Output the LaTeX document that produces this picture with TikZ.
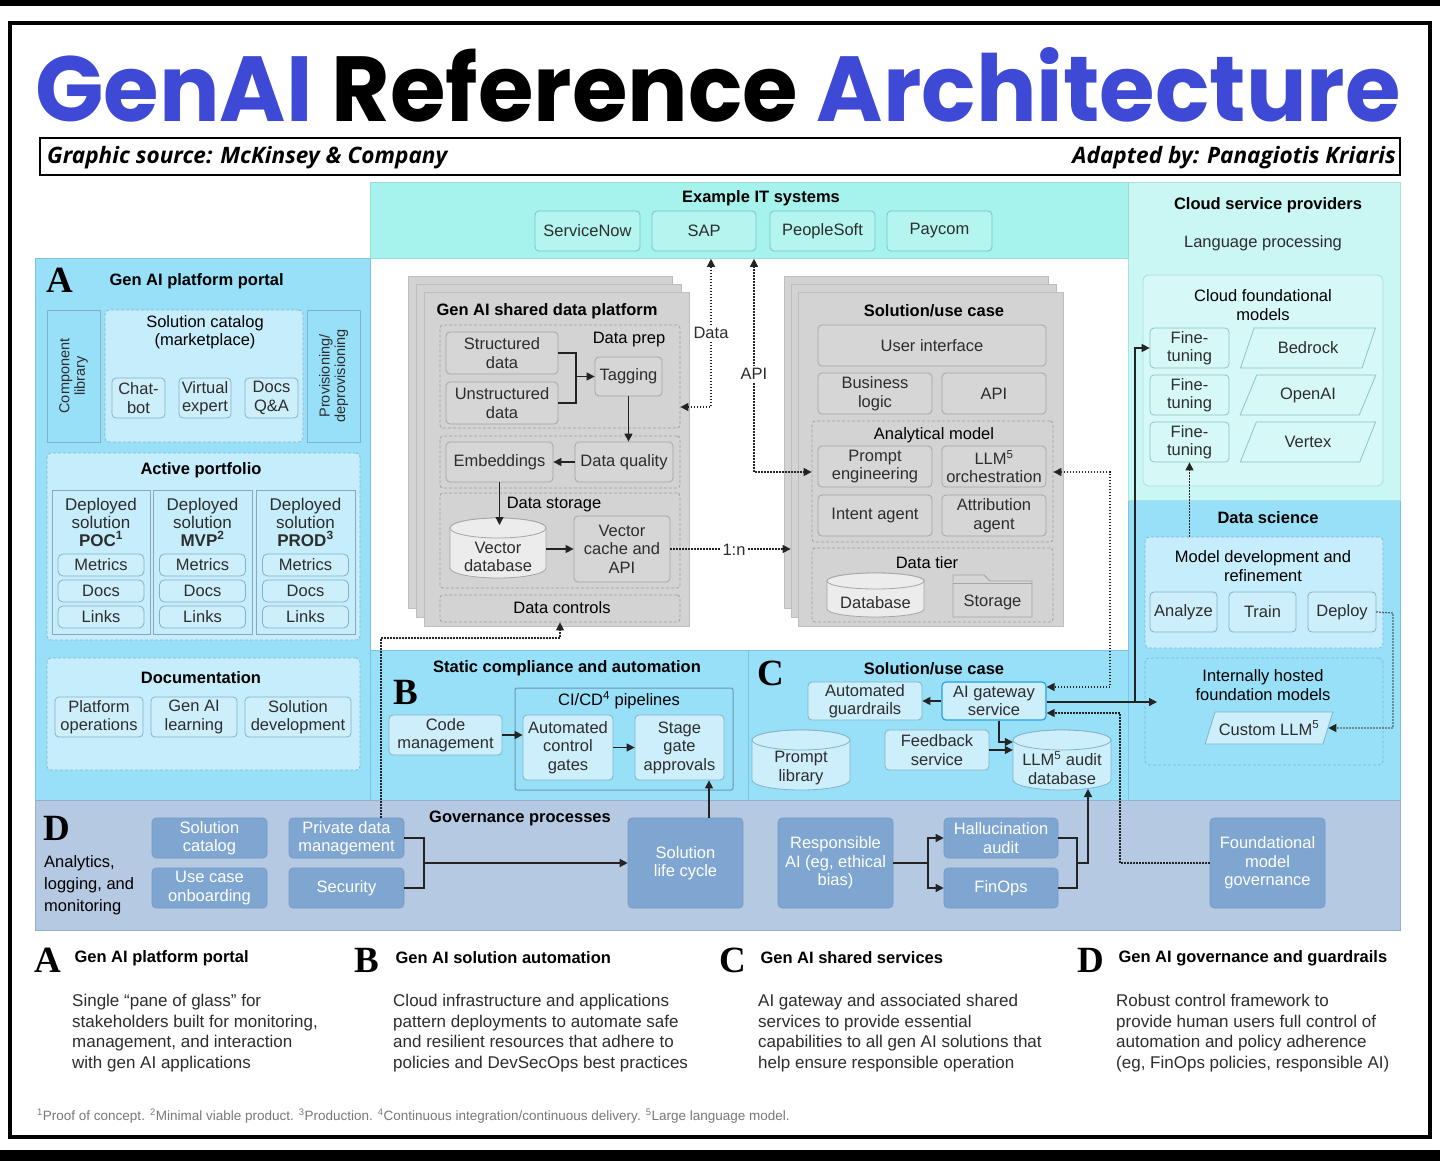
\documentclass[tikz,border=0pt]{standalone}
\usepackage{fontspec}
\setmainfont{Liberation Sans}
\newfontfamily\titlefont{Poppins}
\newfontfamily\subfont{Open Sans}
\newfontfamily\letterfont{Liberation Serif}
\usetikzlibrary{arrows.meta,shapes.geometric,calc}
\definecolor{tblue}{RGB}{62,74,214}
\definecolor{txt}{RGB}{45,45,45}
\definecolor{itteal}{RGB}{166,242,236}
\definecolor{itline}{RGB}{150,220,215}
\definecolor{tfill}{RGB}{180,245,240}
\definecolor{tline}{RGB}{120,195,195}
\definecolor{cloudbg}{RGB}{202,246,243}
\definecolor{cloudline}{RGB}{170,225,225}
\definecolor{cfmfill}{RGB}{214,249,247}
\definecolor{cfmline}{RGB}{170,222,222}
\definecolor{cbline}{RGB}{140,195,195}
\definecolor{pblue}{RGB}{152,223,248}
\definecolor{pline}{RGB}{125,195,225}
\definecolor{alight}{RGB}{198,237,251}
\definecolor{afill}{RGB}{205,239,252}
\definecolor{aline}{RGB}{130,178,198}
\definecolor{adash}{RGB}{130,185,210}
\definecolor{colline}{RGB}{140,168,182}
\definecolor{sheet}{RGB}{211,211,211}
\definecolor{sheetline}{RGB}{190,190,190}
\definecolor{gfill}{RGB}{214,214,214}
\definecolor{gline}{RGB}{165,165,165}
\definecolor{gdash}{RGB}{160,160,160}
\definecolor{gcyl}{RGB}{236,236,236}
\definecolor{dpanel}{RGB}{181,201,226}
\definecolor{dpline}{RGB}{150,175,205}
\definecolor{dfill}{RGB}{127,166,208}
\definecolor{dline}{RGB}{115,152,195}
\definecolor{lineC}{RGB}{35,35,35}
\definecolor{gwline}{RGB}{40,160,225}
\definecolor{cicdline}{RGB}{110,150,175}
\definecolor{foot}{RGB}{120,120,120}
\newcommand\bodysz{\fontsize{16.5}{18.5}\selectfont}
\newcommand\headsz{\bfseries\fontsize{16.5}{19}\selectfont}
\newcommand\cylpath[6]{%
  \pgfmathsetmacro\cyX{(#2+#4)/2}\pgfmathsetmacro\cyR{(#4-#2)/2}%
  \path[#1] (#2,#3+#6) -- (#2,#5-#6) arc[start angle=180,end angle=0,x radius=\cyR,y radius=#6] -- (#4,#3+#6) arc[start angle=0,end angle=-180,x radius=\cyR,y radius=#6] -- cycle;
  \path[#1] (\cyX,#3+#6) ellipse[x radius=\cyR, y radius=#6];
}
\tikzset{
  bodyf/.style={font=\bodysz, text=txt},
  headf/.style={font=\headsz, text=black},
  subhead/.style={font=\bodysz, text=black, align=center},
  box/.style={rounded corners=4pt, align=center, inner sep=1pt, text=txt, font=\bodysz},
  gbox/.style={box, draw=gline, fill=gfill, line width=0.8pt},
  abox/.style={box, draw=aline, fill=afill, line width=0.8pt},
  tbox/.style={box, draw=tline, fill=tfill, line width=0.8pt},
  cbox/.style={box, draw=cbline, fill=cfmfill, line width=0.8pt},
  dbx/.style={box, draw=dline, fill=dfill, text=white, line width=0.6pt},
  para/.style={trapezium, trapezium left angle=61, trapezium right angle=119, trapezium stretches=true, align=center, inner sep=1pt, text=txt, font=\bodysz, line width=0.8pt},
  dashg/.style={draw=gdash, dash pattern=on 3pt off 2pt, rounded corners=3pt, line width=0.8pt, inner sep=0pt},
  dasha/.style={draw=adash, dash pattern=on 3pt off 2pt, rounded corners=4pt, line width=0.8pt, inner sep=0pt},
  sheetbox/.style={fill=sheet, draw=sheetline, line width=0.8pt, inner sep=0pt},
  colbox/.style={draw=colline, line width=0.8pt, inner sep=0pt},
  conn/.style={draw=lineC, line width=1.3pt},
  arr/.style={conn, -{Triangle[length=8pt,width=8pt]}},
  dotl/.style={draw=lineC, line width=1.3pt, dash pattern=on 1.3pt off 1.7pt},
  dotarr/.style={dotl, -{Triangle[length=8pt,width=8pt]}},
  dotboth/.style={dotl, {Triangle[length=8pt,width=8pt]}-{Triangle[length=8pt,width=8pt]}},
  letter/.style={font=\letterfont\bfseries\fontsize{37}{37}\selectfont, inner sep=0pt},
  lbl/.style={fill=white, inner sep=2pt, font=\bodysz, text=txt},
  cyla/.style={fill=afill, draw=aline, line width=0.8pt},
  cylg/.style={fill=gcyl, draw=gline, line width=0.8pt},
  desc/.style={anchor=north west, align=left, inner sep=0pt, font=\fontsize{17}{20.7}\selectfont, text=txt},
  subt/.style={inner sep=0pt, font=\subfont\bfseries\itshape\fontsize{22.6}{24}\selectfont}
}
\begin{document}
\begin{tikzpicture}[x=1pt,y=-1pt]
\useasboundingbox (0,0) rectangle (1440,1161);
\fill[white] (0,0) rectangle (1440,1161);
\fill[black] (0,0) rectangle (1440,6);
\fill[black] (0,1150) rectangle (1440,1161);
\draw[line width=4pt] (10,23) rectangle (1430,1137);

% ---------- title
\node[anchor=base west, inner sep=0pt] (title) at (35,122) {\resizebox{1365pt}{74pt}{\titlefont\bfseries{\color{tblue}GenAI} Reference {\color{tblue}Architecture}}};
\draw[line width=1.3pt] (40,138) rectangle (1400,175);
\node[subt, anchor=base west] (src) at (47,164) {Graphic source: McKinsey \& Company};
\node[subt, anchor=base east] (adp) at (1396,164) {Adapted by: Panagiotis Kriaris};

% ---------- panels
\path[fill=pblue, draw=pline, line width=0.8pt] (35,258) rectangle (370,800);
\path[fill=pblue, draw=pline, line width=0.8pt] (370,650) rectangle (748,800);
\path[fill=pblue, draw=pline, line width=0.8pt] (748,650) rectangle (1128,800);
\path[fill=pblue, draw=pline, line width=0.8pt] (1128,500) rectangle (1400,800);
\path[fill=cloudbg, draw=cloudline, line width=0.8pt] (1128,182) rectangle (1400,500);
\node[fill=itteal, draw=itline, line width=0.8pt, anchor=north west, minimum width=758, minimum height=76, inner sep=0pt] (itb) at (370,182) {};
\path[fill=dpanel, draw=dpline, line width=0.8pt] (35,800) rectangle (1400,930);

% ---------- IT systems
\node[headf] (itt) at (761,198) {Example IT systems};
\node[tbox, minimum width=105, minimum height=40] (sn) at (587.5,231) {ServiceNow};
\node[tbox, minimum width=104, minimum height=40] (sap) at (704,231) {SAP};
\node[tbox, minimum width=105, minimum height=40] (ps) at (822.5,231) {PeopleSoft};
\node[tbox, minimum width=105, minimum height=40] (pay) at (939.5,231) {Paycom};

% ---------- Cloud service providers
\node[headf] (cspt) at (1268,205) {Cloud service providers};
\node[bodyf] (lang) at (1263,243) {Language processing};
\node[draw=cfmline, fill=cfmfill, rounded corners=6pt, line width=0.8pt, minimum width=240, minimum height=211, inner sep=0pt] (cfm) at (1263,380.5) {};
\node[subhead] (cfmt) at (1263,305) {Cloud foundational\\models};
\node[cbox, minimum width=79, minimum height=40] (ft1) at (1189.5,348) {Fine-\\tuning};
\node[cbox, minimum width=79, minimum height=40] (ft2) at (1189.5,395) {Fine-\\tuning};
\node[cbox, minimum width=79, minimum height=40] (ft3) at (1189.5,442) {Fine-\\tuning};
\node[para, draw=cbline, fill=cfmfill, minimum width=136, minimum height=40] (bed) at (1308,348) {Bedrock};
\node[para, draw=cbline, fill=cfmfill, minimum width=136, minimum height=40] (oai) at (1308,395) {OpenAI};
\node[para, draw=cbline, fill=cfmfill, minimum width=136, minimum height=40] (vtx) at (1308,442) {Vertex};

% ---------- Data science
\node[headf] (dst) at (1268,518) {Data science};
\node[dasha, fill=alight, minimum width=238, minimum height=111] (mdr) at (1264,592.5) {};
\node[subhead] (mdrt) at (1263,566) {Model development and\\refinement};
\node[abox, minimum width=67, minimum height=40] (ana) at (1183.5,612) {Analyze};
\node[abox, minimum width=67, minimum height=40] (trn) at (1262.5,612) {Train};
\node[abox, minimum width=68, minimum height=40] (dep) at (1342,612) {Deploy};
\node[dasha, minimum width=238, minimum height=107] (ihf) at (1264,711.5) {};
\node[subhead] (ihft) at (1263,685) {Internally hosted\\foundation models};
\node[para, draw=aline, fill=afill, trapezium left angle=60, trapezium right angle=120, minimum width=128, minimum height=32] (cllm) at (1269,728) {Custom LLM\textsuperscript{5}};

% ---------- Panel A
\node[letter] (la) at (60,280) {A};
\node[headf, anchor=west] (at) at (106,281) {Gen AI platform portal};
\node[draw=aline, fill=pblue, line width=0.8pt, minimum width=53, minimum height=132, inner sep=0pt] (cl) at (73.5,376) {};
\node[rotate=90, align=center, font=\fontsize{14.5}{15.5}\selectfont, text=txt] (clt) at (cl.center) {Component\\library};
\node[dasha, fill=alight, minimum width=198, minimum height=132] (sc) at (204,376) {};
\node[subhead] (sct) at (205,332) {Solution catalog\\(marketplace)};
\node[abox, minimum width=53, minimum height=40] (chat) at (138.5,398) {Chat-\\bot};
\node[abox, minimum width=52, minimum height=40] (virt) at (205,398) {Virtual\\expert};
\node[abox, minimum width=53, minimum height=40] (dqa) at (271.5,398) {Docs\\Q\&A};
\node[draw=aline, fill=pblue, line width=0.8pt, minimum width=53, minimum height=132, inner sep=0pt] (prov) at (333.5,376) {};
\node[rotate=90, align=center, font=\fontsize{14.5}{15.5}\selectfont, text=txt] (provt) at (prov.center) {Provisioning/\\deprovisioning};

\node[dasha, fill=alight, minimum width=313, minimum height=187] (ap) at (203.5,546.5) {};
\node[headf] (apt) at (201,470) {Active portfolio};
\node[colbox, minimum width=98, minimum height=144] (c1) at (101,562) {};
\node[colbox, minimum width=99, minimum height=144] (c2) at (202.5,562) {};
\node[colbox, minimum width=99, minimum height=144] (c3) at (305.5,562) {};
\node[align=center, font=\fontsize{17}{18}\selectfont, text=txt] (c1t) at (101,522) {Deployed\\solution\\\textbf{POC\textsuperscript{1}}};
\node[align=center, font=\fontsize{17}{18}\selectfont, text=txt] (c2t) at (202.5,522) {Deployed\\solution\\\textbf{MVP\textsuperscript{2}}};
\node[align=center, font=\fontsize{17}{18}\selectfont, text=txt] (c3t) at (305.5,522) {Deployed\\solution\\\textbf{PROD\textsuperscript{3}}};
\foreach \cx/\cn in {101/a,202.5/b,305.5/c}{
  \node[abox, minimum width=86, minimum height=22, rounded corners=5pt] (m\cn) at (\cx,565) {Metrics};
  \node[abox, minimum width=86, minimum height=22, rounded corners=5pt] (d\cn) at (\cx,591) {Docs};
  \node[abox, minimum width=86, minimum height=22, rounded corners=5pt] (l\cn) at (\cx,617) {Links};
}
\node[dasha, fill=alight, minimum width=313, minimum height=112] (doc) at (203.5,714) {};
\node[headf] (doct) at (201,678) {Documentation};
\node[abox, minimum width=88, minimum height=40] (po) at (99,717) {Platform\\operations};
\node[abox, minimum width=86, minimum height=40] (gal) at (194,717) {Gen AI\\learning};
\node[abox, minimum width=106, minimum height=40] (sdv) at (298,717) {Solution\\development};

% ---------- Shared data platform
\node[sheetbox, minimum width=264, minimum height=332] (sa1) at (540,442) {};
\node[sheetbox, minimum width=265, minimum height=333] (sa2) at (548.5,450.5) {};
\node[sheetbox, minimum width=265, minimum height=334] (sa3) at (556.5,459) {};
\node[headf, anchor=west] (sdpt) at (433,311) {Gen AI shared data platform};
\node[dashg, minimum width=240, minimum height=103] (dp) at (560,376.5) {};
\node[subhead] (dpt) at (629,340) {Data prep};
\node[gbox, minimum width=112, minimum height=42] (struct) at (502,353) {Structured\\data};
\node[gbox, minimum width=112, minimum height=42] (unstr) at (502,403) {Unstructured\\data};
\node[gbox, minimum width=67, minimum height=39] (tag) at (628.5,376.5) {Tagging};
\node[dashg, minimum width=240, minimum height=52] (dqr) at (560,462) {};
\node[gbox, minimum width=107, minimum height=40] (emb) at (499.5,462) {Embeddings};
\node[gbox, minimum width=98, minimum height=40] (dq) at (624,462) {Data quality};
\node[dashg, minimum width=240, minimum height=95] (ds) at (560,540.5) {};
\node[subhead] (dst2) at (554,505) {Data storage};
\cylpath{cylg}{450}{518}{546}{578}{10}
\node[minimum width=96, minimum height=50, inner sep=0pt, align=center, font=\bodysz, text=txt] (vdb) at (498,557) {Vector\\database};
\node[gbox, minimum width=96, minimum height=66] (vca) at (622,549) {Vector\\cache and\\API};
\node[dashg, minimum width=240, minimum height=27] (dc) at (560,608.5) {};
\node[subhead] (dct) at (562,608) {Data controls};

% ---------- Solution / use case (stack)
\node[sheetbox, minimum width=264, minimum height=332] (sb1) at (916,442) {};
\node[sheetbox, minimum width=265, minimum height=333] (sb2) at (923.5,450.5) {};
\node[sheetbox, minimum width=265, minimum height=334] (sb3) at (930.5,459) {};
\node[headf] (sut) at (934,311) {Solution/use case};
\node[gbox, minimum width=228, minimum height=41] (ui) at (932,345.5) {User interface};
\node[gbox, minimum width=114, minimum height=41] (bl) at (875,393.5) {Business\\logic};
\node[gbox, minimum width=104, minimum height=41] (api) at (994,393.5) {API};
\node[dashg, minimum width=241, minimum height=121] (am) at (932.5,481.5) {};
\node[subhead] (amt) at (934,435) {Analytical model};
\node[gbox, minimum width=114, minimum height=41] (pe) at (875,466.5) {Prompt\\engineering};
\node[gbox, minimum width=104, minimum height=41] (llmo) at (994,466.5) {LLM\textsuperscript{5}\\orchestration};
\node[gbox, minimum width=114, minimum height=41] (ia) at (875,515.5) {Intent agent};
\node[gbox, minimum width=104, minimum height=41] (aa) at (994,515.5) {Attribution\\agent};
\node[dashg, minimum width=241, minimum height=74] (dt) at (932.5,585) {};
\node[subhead] (dtt) at (927,563) {Data tier};
\cylpath{cylg}{827}{573}{924}{617}{8}
\node[minimum width=97, minimum height=36, inner sep=0pt, font=\bodysz, text=txt] (db) at (875.5,603) {Database};
\path[fill=gfill, draw=gline, line width=0.8pt] (953,617) -- (953,575) -- (984,575) -- (990,581) -- (1032,581) -- (1032,617) -- cycle;
\draw[gline, line width=0.8pt] (953,583) -- (1032,583);
\node[minimum width=79, minimum height=34, inner sep=0pt, font=\bodysz, text=txt] (stor) at (992.5,602) {Storage};

% ---------- Panel B
\node[letter] (lb) at (406,692) {B};
\node[headf] (bt) at (567,668) {Static compliance and automation};
\node[draw=cicdline, line width=1pt, rounded corners=2pt, minimum width=218, minimum height=102, inner sep=0pt] (cicd) at (624,739) {};
\node[subhead] (cicdt) at (619,700) {CI/CD\textsuperscript{4} pipelines};
\node[abox, minimum width=113, minimum height=40] (code) at (445.5,735) {Code\\management};
\node[abox, minimum width=90, minimum height=65] (acg) at (568,747.5) {Automated\\control\\gates};
\node[abox, minimum width=89, minimum height=65] (sga) at (679.5,747.5) {Stage\\gate\\approvals};

% ---------- Panel C
\node[letter] (lc) at (771,673) {C};
\node[headf] (ct) at (934,669) {Solution/use case};
\node[abox, minimum width=114, minimum height=38] (ag) at (865,701) {Automated\\guardrails};
\node[abox, draw=gwline, line width=1.2pt, minimum width=104, minimum height=38] (gw) at (994,701) {AI gateway\\service};
\cylpath{cyla}{752}{730}{850}{790}{10}
\node[minimum width=98, minimum height=50, inner sep=0pt, align=center, font=\bodysz, text=txt] (pl) at (801,768) {Prompt\\library};
\node[abox, minimum width=104, minimum height=40] (fb) at (937,750) {Feedback\\service};
\cylpath{cyla}{1013}{730}{1111}{790}{10}
\node[minimum width=98, minimum height=50, inner sep=0pt, align=center, font=\bodysz, text=txt] (llmdb) at (1062,768) {LLM\textsuperscript{5} audit\\database};

% ---------- Panel D
\node[letter] (ld) at (57,828) {D};
\node[anchor=north west, align=left, font=\fontsize{16.5}{22}\selectfont, text=black, inner sep=0pt] (alm) at (44,855) {Analytics,\\logging, and\\monitoring};
\node[headf] (gpt) at (520,818) {Governance processes};
\node[dbx, minimum width=115, minimum height=40] (scat) at (209.5,838) {Solution\\catalog};
\node[dbx, minimum width=115, minimum height=40] (uco) at (209.5,888) {Use case\\onboarding};
\node[dbx, minimum width=115, minimum height=40] (pdm) at (346.5,838) {Private data\\management};
\node[dbx, minimum width=115, minimum height=40] (sec) at (346.5,888) {Security};
\node[dbx, minimum width=115, minimum height=90] (slc) at (685.5,863) {Solution\\life cycle};
\node[dbx, minimum width=115, minimum height=90] (rai) at (835.5,863) {Responsible\\AI (eg, ethical\\bias)};
\node[dbx, minimum width=114, minimum height=40] (ha) at (1001,838) {Hallucination\\audit};
\node[dbx, minimum width=114, minimum height=40] (fin) at (1001,888) {FinOps};
\node[dbx, minimum width=115, minimum height=90] (fmg) at (1267.5,863) {Foundational\\model\\governance};

% ---------- helper coordinates
\coordinate (dataX) at (711,407);
\coordinate (apiX) at (754,472);
\coordinate (orchX) at (1110,472);
\coordinate (gwTop) at (1110,687);
\coordinate (dcX) at (381,638);
\coordinate (slcX) at (709,818);
\coordinate (j1) at (576,376.5);
\coordinate (gwBr) at (1135,702);
\coordinate (ihfIn) at (1157,702);
\coordinate (depX) at (1393,613);
\coordinate (fmgX) at (1120,713);
\coordinate (j2) at (424,863);
\coordinate (j3) at (928,863);
\coordinate (j4) at (1077,863);
\coordinate (j5) at (1088,863);
\coordinate (gwLow) at (999,742);
\coordinate (vdbTop) at (494,525);
\coordinate (llmdbBot) at (1088,789);

% ---------- connectors: shared data platform
\draw[conn] (struct.east) -| (j1) |- (unstr.east);
\draw[arr] (j1) -- (tag.west);
\draw[arr] (tag.south) -- (tag.south |- dq.north);
\draw[arr] (dq.west) -- (emb.east);
\draw[arr] (emb.south) -- (emb.south |- vdbTop);
\draw[arr] (vdb.east |- vca.west) -- (vca.west);

% dotted links centre
\draw[dotboth] (dp.east |- dataX) -| (itb.south -| dataX);
\node[lbl] (datal) at (711,333) {Data};
\draw[dotboth] (itb.south -| apiX) |- (am.west |- apiX);
\node[lbl] (apil) at (754,374) {API};
\draw[dotarr] (vca.east) -- (sb2.west |- vca.east);
\node[lbl] (onen) at (734,550) {1:n};
\draw[dotboth] (am.east |- orchX) -- (orchX) -- (gwTop) -- (gw.east |- gwTop);
\draw[dotarr] (pdm.north -| dcX) -- (dcX) -| (dc.south);

% ---------- connectors: B, C
\draw[arr] (code.east) -- (acg.west |- code.east);
\draw[arr] (acg.east) -- (sga.west |- acg.east);
\draw[arr] (slc.north -| slcX) -- (sga.south -| slcX);
\draw[arr] (gw.west) -- (ag.east);
\draw[arr] (gw.south -| gwLow) -- (gwLow) -- (llmdb.west |- gwLow);
\draw[arr] (fb.east) -- (llmdb.west |- fb.east);
\draw[conn] (gw.east |- gwBr) -- (gwBr);
\draw[arr] (gwBr) |- (ft1.west);
\draw[arr] (gwBr) -- (ihfIn);
\draw[dotarr] (fmg.west) -| (fmgX) -- (gw.east |- fmgX);

% ---------- connectors: data science / cloud
\draw[dotarr] (mdr.north -| ft3.south) -- (ft3.south);
\draw[dotarr] (dep.east) -- (depX) |- (cllm.east);

% ---------- connectors: D
\draw[conn] (pdm.east) -| (j2) |- (sec.east);
\draw[arr] (j2) -- (slc.west);
\draw[conn] (rai.east) -- (j3);
\draw[arr] (j3) |- (ha.west);
\draw[arr] (j3) |- (fin.west);
\draw[conn] (ha.east) -| (j4) |- (fin.east);
\draw[arr] (j4) -- (j5) -- (llmdbBot);

% ---------- bottom descriptions
\node[letter] (ba) at (48,960) {A};
\node[headf, anchor=west] (bah) at (71,958) {Gen AI platform portal};
\node[desc] (bab) at (72,994) {Single “pane of glass” for\\stakeholders built for monitoring,\\management, and interaction\\with gen AI applications};
\node[letter] (bb) at (367,960) {B};
\node[headf, anchor=west] (bbh) at (392,958) {Gen AI solution automation};
\node[desc] (bbb) at (393,994) {Cloud infrastructure and applications\\pattern deployments to automate safe\\and resilient resources that adhere to\\policies and DevSecOps best practices};
\node[letter] (bc) at (733,960) {C};
\node[headf, anchor=west] (bch) at (757,958) {Gen AI shared services};
\node[desc] (bcb) at (758,994) {AI gateway and associated shared\\services to provide essential\\capabilities to all gen AI solutions that\\help ensure responsible operation};
\node[letter] (bd) at (1091,960) {D};
\node[headf, anchor=west] (bdh) at (1115,958) {Gen AI governance and guardrails};
\node[desc] (bdb) at (1116,994) {Robust control framework to\\provide human users full control of\\automation and policy adherence\\(eg, FinOps policies, responsible AI)};

\node[anchor=west, inner sep=0pt, font=\fontsize{13.5}{15}\selectfont, text=foot] (fn) at (37,1116) {\textsuperscript{1}Proof of concept. \textsuperscript{2}Minimal viable product. \textsuperscript{3}Production. \textsuperscript{4}Continuous integration/continuous delivery. \textsuperscript{5}Large language model.};
\end{tikzpicture}
\end{document}
